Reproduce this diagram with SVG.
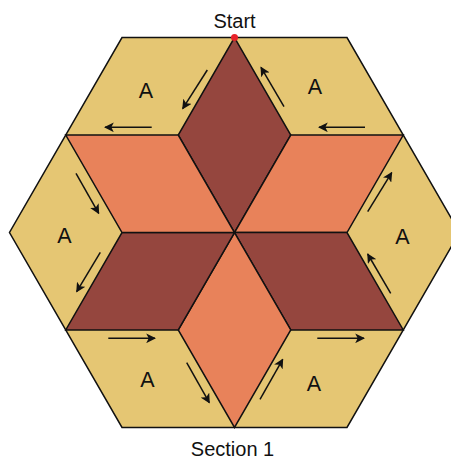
<svg xmlns="http://www.w3.org/2000/svg" width="451" height="459" viewBox="0 0 451 459">
<style>
.a{fill:#e5c673;stroke:#111;stroke-width:1.5;stroke-linejoin:miter}
.d{fill:#95463e;stroke:#111;stroke-width:1.5;stroke-linejoin:miter}
.l{fill:#e8825a;stroke:#111;stroke-width:1.5;stroke-linejoin:miter}
.t{font-family:"Liberation Sans",Arial,sans-serif;font-size:20px;fill:#111;text-anchor:middle}
.big{font-size:21.5px}
.arr{stroke:#111;stroke-width:1.5;fill:none;marker-end:url(#ah)}
</style>
<defs>
<marker id="ah" viewBox="0 0 10 10" refX="9" refY="5" markerWidth="6.5" markerHeight="6.5" markerUnits="strokeWidth" orient="auto">
<path d="M0,0 L10,5 L0,10 L2.5,5 Z" fill="#111"/>
</marker>
</defs>
<rect width="451" height="459" fill="#fff"/>
<g id="hexagon">
<polygon class="a" points="122,37.6 347,37.6 459.5,232.5 347,427.4 122,427.4 9.5,232.5"/>
</g>
<g id="rhombus-top"><polygon class="d" points="234.5,37.6 290.75,135.07 234.5,232.5 178.25,135.07"/></g>
<g id="rhombus-upper-right"><polygon class="l" points="290.75,135.07 403.25,135.07 347,232.5 234.5,232.5"/></g>
<g id="rhombus-lower-right"><polygon class="d" points="234.5,232.5 347,232.5 403.25,329.93 290.75,329.93"/></g>
<g id="rhombus-bottom"><polygon class="l" points="234.5,232.5 290.75,329.93 234.5,427.4 178.25,329.93"/></g>
<g id="rhombus-lower-left"><polygon class="d" points="234.5,232.5 178.25,329.93 65.75,329.93 122,232.5"/></g>
<g id="rhombus-upper-left"><polygon class="l" points="234.5,232.5 122,232.5 65.75,135.07 178.25,135.07"/></g>
<g id="labels">
<text class="t big" x="146" y="97.5">A</text>
<text class="t big" x="315" y="93.5">A</text>
<text class="t big" x="64.5" y="242.5">A</text>
<text class="t big" x="402.5" y="243.5">A</text>
<text class="t big" x="147.5" y="386.5">A</text>
<text class="t big" x="314" y="390.5">A</text>
<text class="t" x="234.5" y="28">Start</text>
<text class="t" x="232.5" y="456">Section 1</text>
</g>
<g id="connectors">
<line class="arr" x1="207.3" y1="70" x2="182.7" y2="108.7"/>
<line class="arr" x1="151.7" y1="127.3" x2="105" y2="127.3"/>
<line class="arr" x1="284" y1="106.7" x2="261" y2="67.3"/>
<line class="arr" x1="365" y1="127.3" x2="319" y2="127.3"/>
<line class="arr" x1="76" y1="173.3" x2="98.7" y2="213.3"/>
<line class="arr" x1="100.3" y1="252.3" x2="76.7" y2="291.7"/>
<line class="arr" x1="367.7" y1="211.7" x2="391.7" y2="172.7"/>
<line class="arr" x1="390.7" y1="293.3" x2="367.7" y2="254"/>
<line class="arr" x1="108.3" y1="338.3" x2="155" y2="338.3"/>
<line class="arr" x1="317.3" y1="338.3" x2="364" y2="338.3"/>
<line class="arr" x1="186.7" y1="362.7" x2="209.3" y2="402.7"/>
<line class="arr" x1="260" y1="399.3" x2="282.7" y2="359.3"/>
</g>
<g id="start-dot"><circle cx="234.5" cy="37.6" r="3.5" fill="#e8232a"/></g>
</svg>
